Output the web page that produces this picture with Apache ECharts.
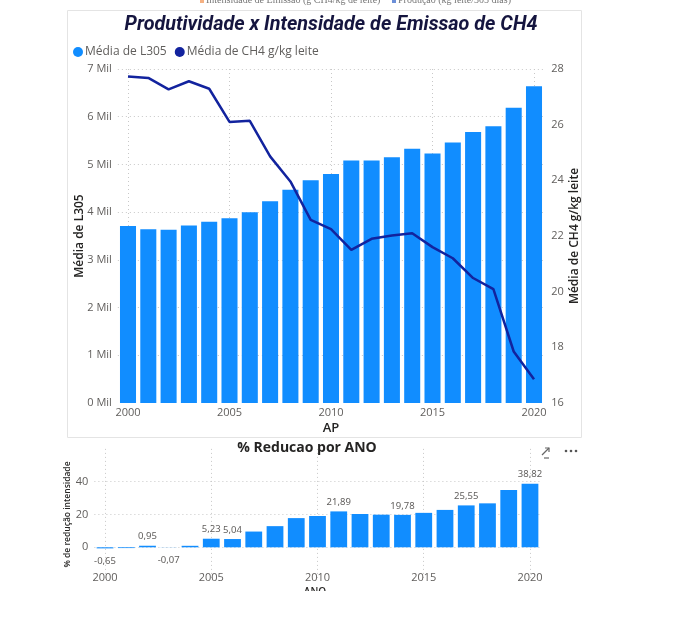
<!DOCTYPE html>
<html>
<head>
<meta charset="utf-8">
<script src="https://cdn.jsdelivr.net/npm/echarts@6/dist/echarts.min.js"></script>
<style>
html,body{margin:0;padding:0;background:#fff;}
#c{width:673px;height:620px;}
</style>
</head>
<body>
<div id="c"></div>
<script>
var years = ['2000','2001','2002','2003','2004','2005','2006','2007','2008','2009','2010','2011','2012','2013','2014','2015','2016','2017','2018','2019','2020'];
var l305 = [3710,3640,3630,3720,3800,3870,4000,4230,4470,4670,4800,5080,5080,5150,5330,5230,5460,5680,5800,6190,6640];
var ch4 = [27.73,27.68,27.27,27.56,27.29,26.10,26.14,24.86,23.96,22.58,22.25,21.50,21.90,22.02,22.10,21.60,21.20,20.49,20.09,17.85,16.85];
var reducao = [-0.65,-0.47,0.95,-0.07,0.91,5.23,5.04,9.6,12.9,17.8,19.1,21.89,20.3,19.9,19.78,21.0,22.8,25.55,26.8,34.9,38.82];
var labeledYears = ['2000','2002','2003','2005','2006','2011','2014','2017','2020'];
var leftTicks = [0,1000,2000,3000,4000,5000,6000,7000];
var rightTicks = [16,18,20,22,24,26,28];

var FONT = '"Open Sans", "Noto Sans", sans-serif';
var GREY = '#605E5C';
var DARK = '#252423';
var BLUE = '#118DFF';
var NAVY = '#12239E';

var chart = echarts.init(document.getElementById('c'), null, {renderer:'canvas'});

var redData = reducao.map(function(v,i){
  var show = labeledYears.indexOf(years[i]) >= 0;
  return {
    value: v,
    label: {
      show: show,
      position: v < 0 ? 'bottom' : 'top',
      distance: v < 0 ? 8 : 4,
      formatter: function(p){ return p.value.toFixed(2).replace('.', ','); }
    }
  };
});

var option = {
  animation: false,
  textStyle: {fontFamily: FONT},
  title: [
    {text: 'Produtividade x Intensidade de Emissao de CH4', left: 326, textAlign: 'center', top: 10,
     textStyle: {fontFamily: 'Roboto', fontStyle: 'italic', fontWeight: 'bold', fontSize: 19.8, color: '#15153f'}},
    {text: '% Reducao por ANO', left: 302, textAlign: 'center', top: 436,
     textStyle: {fontFamily: FONT, fontWeight: 'bold', fontSize: 14, color: DARK}}
  ],
  legend: {
    left: 68, top: 41, icon: 'circle', itemWidth: 10, itemHeight: 10, itemGap: 8,
    textStyle: {fontFamily: FONT, fontSize: 12, color: GREY, padding: [0,0,0,-3]},
    data: ['Média de L305', 'Média de CH4 g/kg leite']
  },
  grid: [
    {left: 117.85, right: 128.85, top: 69, bottom: 217},
    {left: 94.4, right: 132.4, top: 448.9, bottom: 39.9}
  ],
  xAxis: [
    {type: 'category', gridIndex: 0, data: years, boundaryGap: true,
     axisLine: {show: false}, axisTick: {show: false},
     axisLabel: {interval: 4, margin: 4, color: GREY, fontSize: 11, fontFamily: FONT},
     splitLine: {show: true, interval: 4, alignWithLabel: true, lineStyle: {type: [1,3], color: '#c8c8c8', width: 1}}},
    {type: 'category', gridIndex: 1, data: years, boundaryGap: true,
     axisLine: {show: false, onZero: false}, axisTick: {show: false}, offset: -14,
     axisLabel: {interval: 4, margin: 6, color: GREY, fontSize: 11, fontFamily: FONT},
     splitLine: {show: true, interval: 4, alignWithLabel: true, lineStyle: {type: [1,3], color: '#c8c8c8', width: 1}}}
  ],
  yAxis: [
    {type: 'value', gridIndex: 0, min: 0, max: 7000, interval: 1000,
     name: 'Média de L305', nameLocation: 'middle', nameGap: 32, nameMoveOverlap: false,
     nameTextStyle: {fontFamily: FONT, fontSize: 12, color: DARK, fontWeight: 600},
     axisLine: {show: false}, axisTick: {show: false},
     axisLabel: {margin: 6, color: GREY, fontSize: 11, fontFamily: FONT,
       formatter: function(v){ return (v/1000) + ' Mil'; }},
     splitLine: {show: true, showMinLine: false, lineStyle: {type: [1,3], color: '#c8c8c8', width: 1}}},
    {type: 'value', gridIndex: 0, min: 16, max: 28, interval: 2, position: 'right',
     name: 'Média de CH4 g/kg leite', nameLocation: 'middle', nameGap: 24, nameMoveOverlap: false,
     nameTextStyle: {fontFamily: FONT, fontSize: 12, color: DARK, fontWeight: 600},
     axisLine: {show: false}, axisTick: {show: false},
     axisLabel: {margin: 7, color: GREY, fontSize: 11, fontFamily: FONT},
     splitLine: {show: false}},
    {type: 'value', gridIndex: 1, min: -20, max: 60, interval: 20,
     name: '% de redução intensidade', nameLocation: 'middle', nameGap: 22, nameMoveOverlap: false,
     nameTextStyle: {fontFamily: FONT, fontSize: 8.5, color: DARK, fontWeight: 600},
     axisLine: {show: false}, axisTick: {show: false},
     axisLabel: {margin: 6, color: GREY, fontSize: 11, fontFamily: FONT, showMinLabel: false, showMaxLabel: false},
     splitLine: {show: true, showMinLine: false, showMaxLine: false, lineStyle: {type: [1,3], color: '#c8c8c8', width: 1}}}
  ],
  series: [
    {name: 'Média de L305', type: 'bar', xAxisIndex: 0, yAxisIndex: 0, data: l305,
     barCategoryGap: '21%', itemStyle: {color: BLUE}},
    {name: 'Média de CH4 g/kg leite', type: 'line', xAxisIndex: 0, yAxisIndex: 1, data: ch4,
     symbol: 'none', lineStyle: {color: NAVY, width: 2.5}, itemStyle: {color: NAVY}, z: 5},
    {name: '% Reducao', type: 'bar', xAxisIndex: 1, yAxisIndex: 2, data: redData,
     barCategoryGap: '21%', itemStyle: {color: BLUE},
     label: {color: GREY, fontSize: 9.5, fontFamily: '"Noto Sans", sans-serif'}}
  ],
  graphic: [
    {type: 'rect', shape: {x: 67.5, y: 10.5, width: 514, height: 427}, style: {fill: 'none', stroke: '#e4e4e4', lineWidth: 1}, silent: true, z: -1},
    {type: 'rect', shape: {x: 200, y: 0, width: 4, height: 3}, style: {fill: '#F5B183'}},
    {type: 'text', x: 206, y: 5, style: {text: 'Intensidade de Emissão (g CH4/kg de leite)', font: '10px "Liberation Serif", serif', fill: '#777', textVerticalAlign: 'bottom'}},
    {type: 'rect', shape: {x: 392, y: 0, width: 4, height: 3}, style: {fill: '#6C8FD8'}},
    {type: 'text', x: 398, y: 5, style: {text: 'Produção (kg leite/305 dias)', font: '10px "Liberation Serif", serif', fill: '#777', textVerticalAlign: 'bottom'}},
    {type: 'text', x: 331, y: 428, style: {text: 'AP', font: '600 13px "Open Sans", sans-serif', fill: DARK, textAlign: 'center', textVerticalAlign: 'middle'}},
    {type: 'text', x: 315, y: 592, style: {text: 'ANO', font: '600 10px "Open Sans", sans-serif', fill: DARK, textAlign: 'center', textVerticalAlign: 'middle'}},
    {type: 'rect', shape: {x: 250, y: 591, width: 150, height: 30}, style: {fill: '#fff'}, z: 100},
    {type: 'polyline', shape: {points: [[542,455],[549,448]]}, style: {stroke: '#666', lineWidth: 1.2, fill: 'none'}},
    {type: 'polyline', shape: {points: [[545,448],[549,448],[549,452]]}, style: {stroke: '#666', lineWidth: 1.2, fill: 'none'}},
    {type: 'polyline', shape: {points: [[544,458],[549,458]]}, style: {stroke: '#666', lineWidth: 1.2, fill: 'none'}},
    {type: 'circle', shape: {cx: 566, cy: 451, r: 1.3}, style: {fill: '#555'}},
    {type: 'circle', shape: {cx: 571, cy: 451, r: 1.3}, style: {fill: '#555'}},
    {type: 'circle', shape: {cx: 576, cy: 451, r: 1.3}, style: {fill: '#555'}}
  ]
};
chart.setOption(option);
</script>
</body>
</html>
